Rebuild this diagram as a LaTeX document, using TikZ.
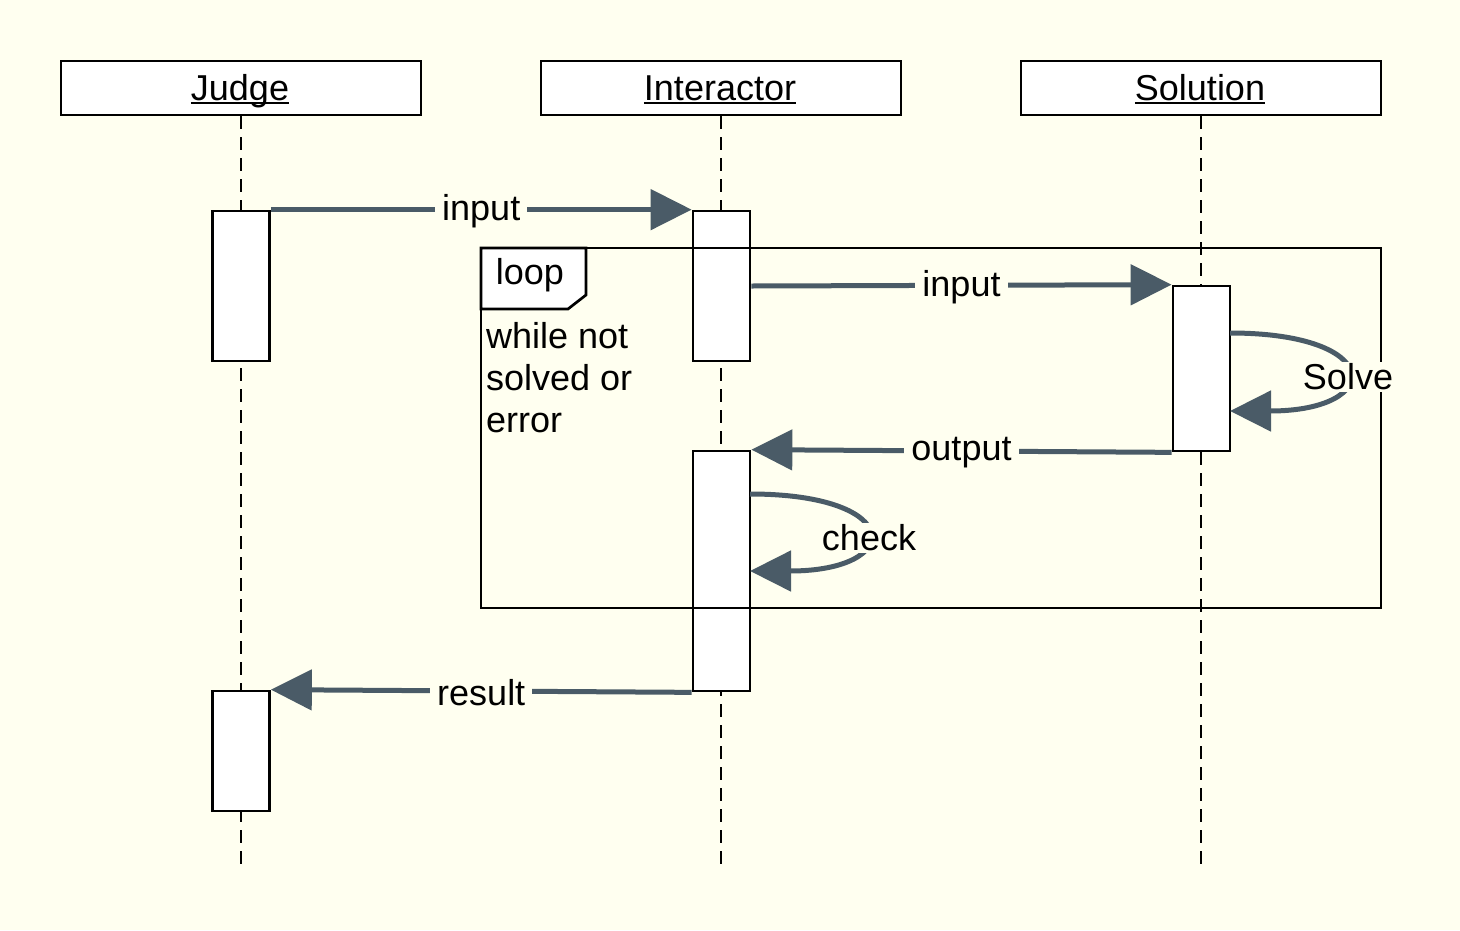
\documentclass[tikz,border=0pt]{standalone}
\usepackage{fontspec}
\setmainfont{Liberation Sans}
\usetikzlibrary{arrows.meta}
\definecolor{bgc}{HTML}{FFFFF0}
\definecolor{arr}{HTML}{4A5B67}
\newcommand\ulname[1]{\setbox0\hbox{#1}\rlap{\rule[-4pt]{\wd0}{2pt}}\box0}
\tikzset{
  txt/.style={font=\fontsize{36}{42}\selectfont},
  head/.style={draw, line width=2.7pt, fill=white, minimum width=360pt, minimum height=54pt, inner sep=0pt, txt},
  act/.style={draw, line width=2.7pt, fill=white, minimum width=57pt, inner sep=0pt},
  life/.style={line width=2.6pt, dash pattern=on 13pt off 8pt},
  msg/.style={line width=5pt, draw=arr, -{Triangle[length=41pt,width=40pt]}},
  lbl/.style={txt, fill=bgc, inner xsep=7pt, inner ysep=2pt, yshift=-2pt},
  frame/.style={line width=2.7pt}
}
\begin{document}
\begin{tikzpicture}[x=1pt,y=-1pt]
\fill[bgc] (0,0) rectangle (1460,930);
\useasboundingbox (0,0) rectangle (1460,930);
% headers
\node[head] (J) at (241,88) {};
\node[head] (I) at (721,88) {};
\node[head] (S) at (1201,88) {};
\node[txt, anchor=base, inner sep=0pt] (Jt) at (240,100) {\ulname{Judge}};
\node[txt, anchor=base, inner sep=0pt] (It) at (720,100) {\ulname{Interactor}};
\node[txt, anchor=base, inner sep=0pt] (St) at (1200,100) {\ulname{Solution}};
% lifeline ends
\coordinate (Je) at (241,865);
\coordinate (Ie) at (721,865);
\coordinate (Se) at (1201,865);
\draw[life] (J.south) -- (Je);
\draw[life] (I.south) -- (Ie);
\draw[life] (S.south) -- (Se);
% activations
\node[act, minimum height=150pt] (j1) at (241,286) {};
\node[act, minimum height=120pt] (j2) at (241,751) {};
\node[act, minimum height=150pt] (i1) at (721.5,286) {};
\node[act, minimum height=240pt] (i2) at (721.5,571) {};
\node[act, minimum height=165pt] (s1) at (1201.5,368.5) {};
% loop frame
\draw[frame] (481,248) rectangle (1381,608);
\draw[frame, fill=white] (481,248) -- (586,248) -- (586,295) -- (568,309) -- (481,309) -- cycle;
\node[txt, inner sep=0pt] (looplbl) at (530,275) {loop};
\node[txt, inner sep=0pt, anchor=north west, align=left] (cond) at (486,322) {while not\\solved or\\error};
% messages
\draw[msg] (j1.north east) -- node[lbl] {input} (i1.north west);
\draw[msg] (i1.east) -- node[lbl] {input} (s1.north west);
\draw[msg] (s1.south west) -- node[lbl] {output} (i2.north east);
\draw[msg] (i2.south west) -- node[lbl] {result} (j2.north east);
% self calls
\coordinate (sa) at (1230,333);
\coordinate (sb) at (1230,411);
\draw[msg] (sa) .. controls (1385,333) and (1385,411) .. (sb);
\node[lbl, inner xsep=2pt] (solve) at (1348,375) {Solve};
\coordinate (ca) at (750,494);
\coordinate (cb) at (750,571);
\draw[msg] (ca) .. controls (905,494) and (905,571) .. (cb);
\node[lbl, inner xsep=2pt] (check) at (869,536) {check};
\end{tikzpicture}
\end{document}
